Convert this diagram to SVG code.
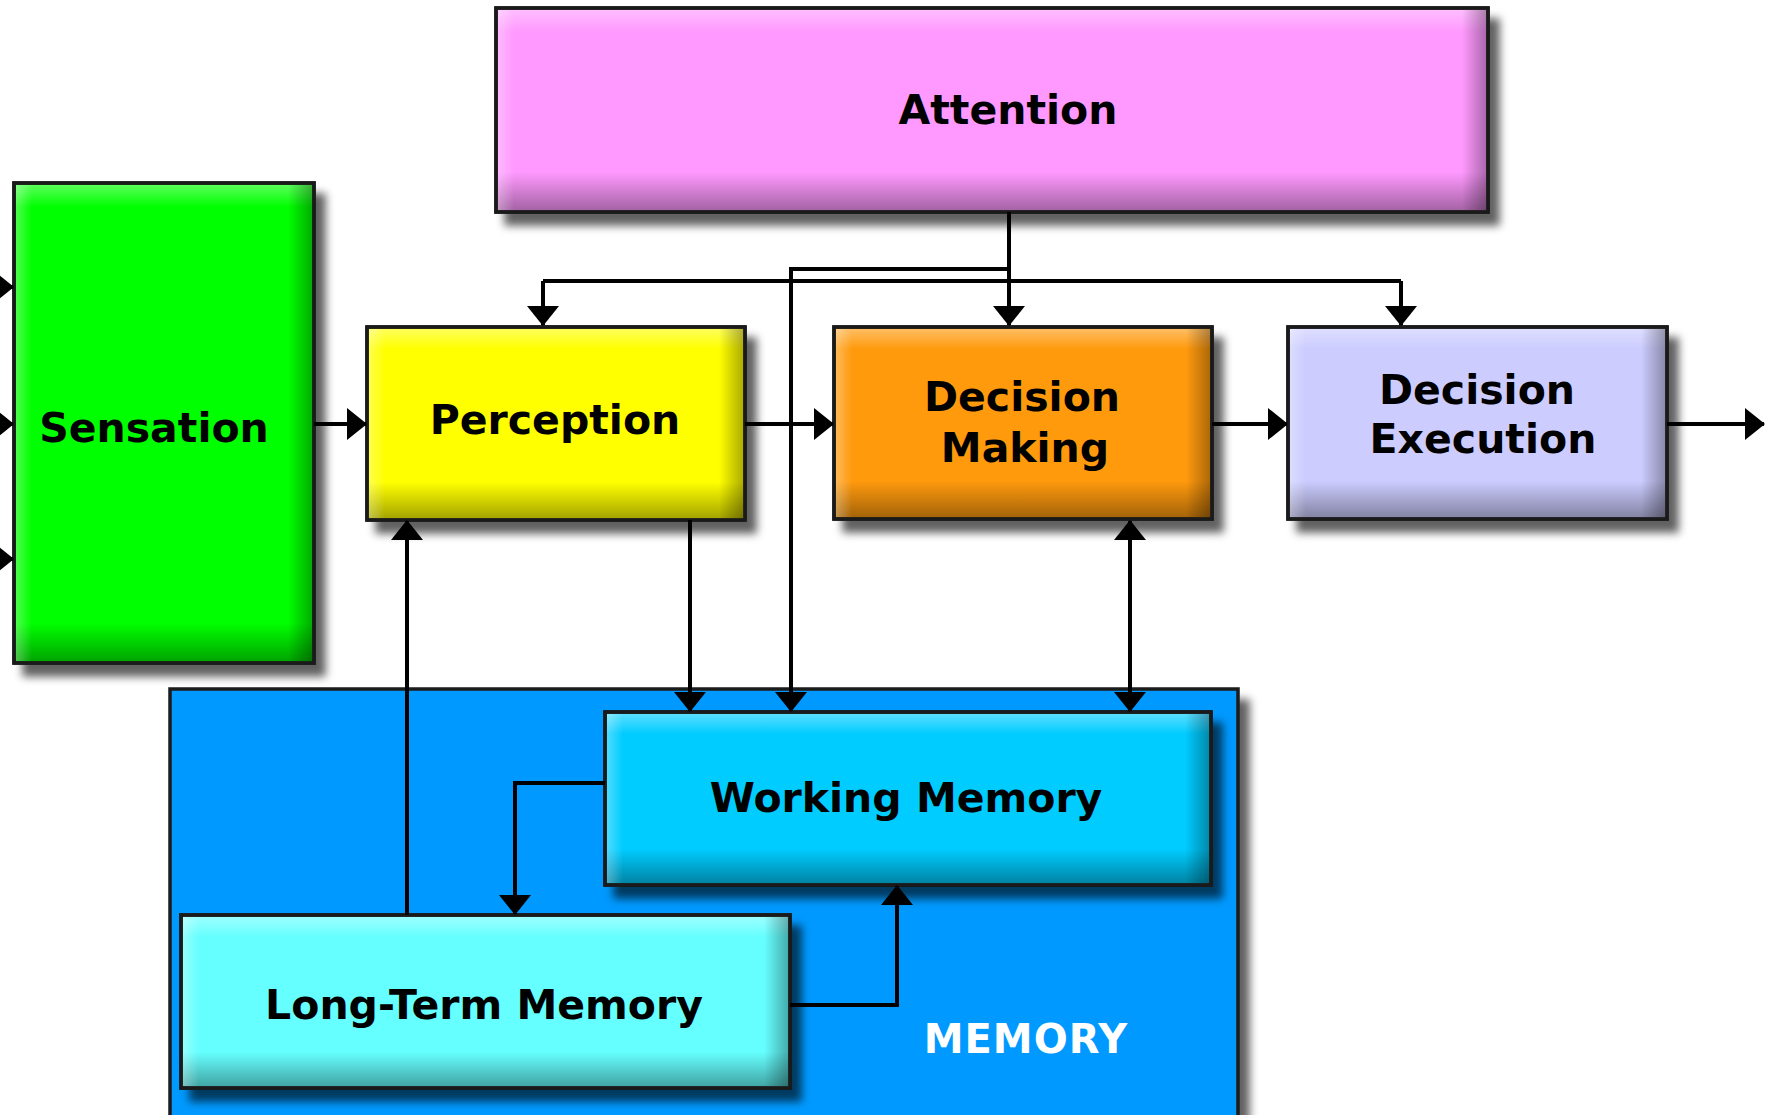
<svg xmlns="http://www.w3.org/2000/svg" width="1776" height="1115" viewBox="0 0 1776 1115">
<defs>
<style>
.box{stroke:#1a1a1a;stroke-width:3.5}
.lbl{font-family:"DejaVu Sans","Liberation Sans",sans-serif;font-weight:bold;font-size:41px;fill:#000;text-anchor:middle}
.mem{font-family:"DejaVu Sans","Liberation Sans",sans-serif;font-weight:bold;font-size:40px;fill:#fff;text-anchor:middle;letter-spacing:1px}
.ln{fill:none;stroke:#000;stroke-width:4}
.arr{marker-end:url(#ah)}
</style>
<filter id="sh" x="-10%" y="-10%" width="130%" height="140%">
<feGaussianBlur in="SourceAlpha" stdDeviation="4.5"/>
<feOffset dx="10" dy="12" result="b"/>
<feFlood flood-color="#000" flood-opacity="0.62"/>
<feComposite in2="b" operator="in"/>
<feMerge><feMergeNode/><feMergeNode in="SourceGraphic"/></feMerge>
</filter>
<linearGradient id="gT" x1="0" y1="0" x2="0" y2="1"><stop offset="0" stop-color="#fff" stop-opacity="0.35"/><stop offset="1" stop-color="#fff" stop-opacity="0"/></linearGradient>
<linearGradient id="gB" x1="0" y1="0" x2="0" y2="1"><stop offset="0" stop-color="#000" stop-opacity="0"/><stop offset="1" stop-color="#000" stop-opacity="0.35"/></linearGradient>
<linearGradient id="gL" x1="0" y1="0" x2="1" y2="0"><stop offset="0" stop-color="#fff" stop-opacity="0.3"/><stop offset="1" stop-color="#fff" stop-opacity="0"/></linearGradient>
<linearGradient id="gR" x1="0" y1="0" x2="1" y2="0"><stop offset="0" stop-color="#000" stop-opacity="0"/><stop offset="1" stop-color="#000" stop-opacity="0.32"/></linearGradient>
<marker id="ah" viewBox="0 0 20 32" refX="19" refY="16" markerWidth="20" markerHeight="32" markerUnits="userSpaceOnUse" orient="auto-start-reverse">
<path d="M0,0 L20,16 L0,32 z" fill="#000"/>
</marker>
</defs>
<rect width="1776" height="1115" fill="#fff"/>

<g id="memory-container">
<rect x="170" y="689" width="1068" height="440" fill="#0099ff" class="box" filter="url(#sh)"/>
<text x="1026" y="1053" class="mem">MEMORY</text>
</g>

<g id="attention">
<rect x="496" y="8" width="992" height="204" fill="#ff99ff" class="box" filter="url(#sh)"/>
<rect x="498" y="10" width="988" height="22" fill="url(#gT)"/>
<rect x="498" y="172" width="988" height="38" fill="url(#gB)"/>
<rect x="498" y="10" width="16" height="200" fill="url(#gL)"/>
<rect x="1462" y="10" width="24" height="200" fill="url(#gR)"/>
<rect x="496" y="8" width="992" height="204" fill="none" class="box"/>
<text x="1008" y="124" class="lbl">Attention</text>
</g>

<g id="sensation">
<rect x="14" y="183" width="300" height="480" fill="#00ff00" class="box" filter="url(#sh)"/>
<rect x="16" y="185" width="296" height="22" fill="url(#gT)"/>
<rect x="16" y="623" width="296" height="38" fill="url(#gB)"/>
<rect x="16" y="185" width="16" height="476" fill="url(#gL)"/>
<rect x="288" y="185" width="24" height="476" fill="url(#gR)"/>
<rect x="14" y="183" width="300" height="480" fill="none" class="box"/>
<text x="154" y="442" class="lbl">Sensation</text>
</g>

<g id="perception">
<rect x="367" y="327" width="378" height="193" fill="#ffff00" class="box" filter="url(#sh)"/>
<rect x="369" y="329" width="374" height="20" fill="url(#gT)"/>
<rect x="369" y="482" width="374" height="36" fill="url(#gB)"/>
<rect x="369" y="329" width="16" height="189" fill="url(#gL)"/>
<rect x="719" y="329" width="24" height="189" fill="url(#gR)"/>
<rect x="367" y="327" width="378" height="193" fill="none" class="box"/>
<text x="555" y="434" class="lbl">Perception</text>
</g>

<g id="decision-making">
<rect x="834" y="327" width="378" height="192" fill="#ff9a08" class="box" filter="url(#sh)"/>
<rect x="836" y="329" width="374" height="20" fill="url(#gT)"/>
<rect x="836" y="481" width="374" height="36" fill="url(#gB)"/>
<rect x="836" y="329" width="16" height="188" fill="url(#gL)"/>
<rect x="1186" y="329" width="24" height="188" fill="url(#gR)"/>
<rect x="834" y="327" width="378" height="192" fill="none" class="box"/>
<text x="1022" y="411" class="lbl">Decision</text>
<text x="1025" y="462" class="lbl">Making</text>
</g>

<g id="decision-execution">
<rect x="1288" y="327" width="379" height="192" fill="#ccccff" class="box" filter="url(#sh)"/>
<rect x="1290" y="329" width="375" height="20" fill="url(#gT)"/>
<rect x="1290" y="481" width="375" height="36" fill="url(#gB)"/>
<rect x="1290" y="329" width="16" height="188" fill="url(#gL)"/>
<rect x="1641" y="329" width="24" height="188" fill="url(#gR)"/>
<rect x="1288" y="327" width="379" height="192" fill="none" class="box"/>
<text x="1477" y="404" class="lbl">Decision</text>
<text x="1483" y="453" class="lbl">Execution</text>
</g>

<g id="working-memory">
<rect x="605" y="712" width="606" height="173" fill="#00ccff" class="box" filter="url(#sh)"/>
<rect x="607" y="714" width="602" height="20" fill="url(#gT)"/>
<rect x="607" y="849" width="602" height="34" fill="url(#gB)"/>
<rect x="607" y="714" width="16" height="169" fill="url(#gL)"/>
<rect x="1185" y="714" width="24" height="169" fill="url(#gR)"/>
<rect x="605" y="712" width="606" height="173" fill="none" class="box"/>
<text x="906" y="812" class="lbl">Working Memory</text>
</g>

<g id="long-term-memory">
<rect x="181" y="915" width="609" height="173" fill="#66ffff" class="box" filter="url(#sh)"/>
<rect x="183" y="917" width="605" height="20" fill="url(#gT)"/>
<rect x="183" y="1052" width="605" height="34" fill="url(#gB)"/>
<rect x="183" y="917" width="16" height="169" fill="url(#gL)"/>
<rect x="764" y="917" width="24" height="169" fill="url(#gR)"/>
<rect x="181" y="915" width="609" height="173" fill="none" class="box"/>
<text x="484" y="1019" class="lbl">Long-Term Memory</text>
</g>

<g id="connectors">
<path class="ln arr" d="M-30,287 H13"/>
<path class="ln arr" d="M-30,424 H13"/>
<path class="ln arr" d="M-30,559 H13"/>
<path class="ln arr" d="M314,424 H366"/>
<path class="ln arr" d="M745,424 H833"/>
<path class="ln arr" d="M1212,424 H1287"/>
<path class="ln arr" d="M1667,424 H1764"/>
<path class="ln arr" d="M1009,212 V325"/>
<path class="ln arr" d="M1009,269 H791 V711"/>
<path class="ln" d="M543,281 H1401"/>
<path class="ln arr" d="M543,281 V325"/>
<path class="ln arr" d="M1401,281 V325"/>
<path class="ln arr" d="M690,520 V711"/>
<path class="ln" d="M1130,521 V711" marker-start="url(#ah)" marker-end="url(#ah)"/>
<path class="ln arr" d="M407,915 V521"/>
<path class="ln arr" d="M605,783 H515 V914"/>
<path class="ln arr" d="M790,1005 H897 V886"/>
</g>
</svg>
